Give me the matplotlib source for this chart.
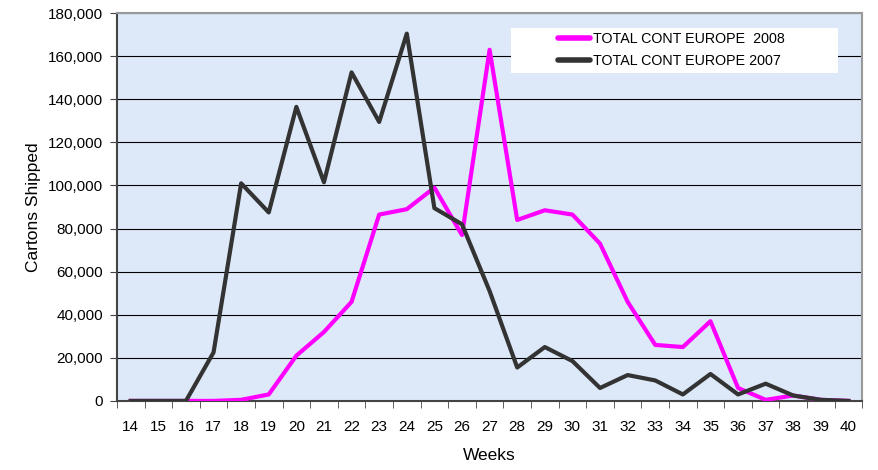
import numpy as np
import matplotlib.pyplot as plt
from matplotlib.patches import Rectangle
from matplotlib.ticker import FuncFormatter

plt.rcParams['font.family'] = ['Liberation Sans', 'DejaVu Sans']

weeks = list(range(14, 41))
europe_2008 = [0, 0, 0, 0, 500, 3000, 21000, 32000, 46000, 86500, 89000, 99000,
               77000, 163000, 84000, 88500, 86500, 73000, 46000, 26000, 25000,
               37000, 6000, 500, 2500, 500, 0]
europe_2007 = [0, 0, 0, 22500, 101000, 87500, 136500, 101500, 152500, 129500,
               170500, 89500, 82000, 51000, 15500, 25000, 18500, 6000, 12000,
               9500, 3000, 12500, 3000, 8000, 2500, 500, 0]

x = np.arange(len(weeks))

fig = plt.figure(figsize=(8.79, 4.70), dpi=100)
ax = fig.add_axes([0.133, 0.147, 0.848, 0.825])
ax.set_facecolor('#dde9f9')

ax.plot(x, europe_2008, color='#ff00ff', lw=3, label='TOTAL CONT EUROPE  2008', zorder=3)
ax.plot(x, europe_2007, color='#333333', lw=3, label='TOTAL CONT EUROPE 2007', zorder=3)

ax.set_xlim(-0.5, len(weeks) - 0.5)
ax.set_ylim(0, 180000)
ax.set_yticks(range(0, 180001, 20000))
ax.yaxis.set_major_formatter(FuncFormatter(lambda v, p: f'{int(v):,}'))
ax.yaxis.grid(True, color='black', lw=0.8)
ax.set_axisbelow(True)

ax.set_xticks(x)
ax.set_xticklabels([str(w) for w in weeks])
ax.set_xticks(np.arange(-0.5, len(weeks)), minor=True)
ax.tick_params(axis='x', which='major', length=0, labelsize=11, pad=14)
ax.tick_params(axis='x', which='minor', length=5, color='#444444')
ax.tick_params(axis='y', length=5, labelsize=11, color='#444444', pad=5)

for s in ['left', 'bottom']:
    ax.spines[s].set_color('#444444')
    ax.spines[s].set_linewidth(1.5)
for s in ['top', 'right']:
    ax.spines[s].set_color('#999999')
    ax.spines[s].set_linewidth(1.5)

ax.set_xlabel('Weeks', fontsize=12.5, labelpad=10)
ax.set_ylabel('Cartons Shipped', fontsize=12.5, labelpad=5)

# white legend box
ax.add_patch(Rectangle((0.529, 0.845), 0.439, 0.116, transform=ax.transAxes,
                       facecolor='white', edgecolor='none', zorder=4))
leg = ax.legend(loc='upper left', bbox_to_anchor=(0.592, 0.952), fontsize=10.3,
                frameon=False, handlelength=2.2, handletextpad=0.2,
                borderpad=0, borderaxespad=0, labelspacing=0.55)
leg.set_zorder(5)
for h in leg.get_lines():
    h.set_linewidth(4)
    h.set_solid_capstyle('round')

fig.savefig('out.png', dpi=100)
